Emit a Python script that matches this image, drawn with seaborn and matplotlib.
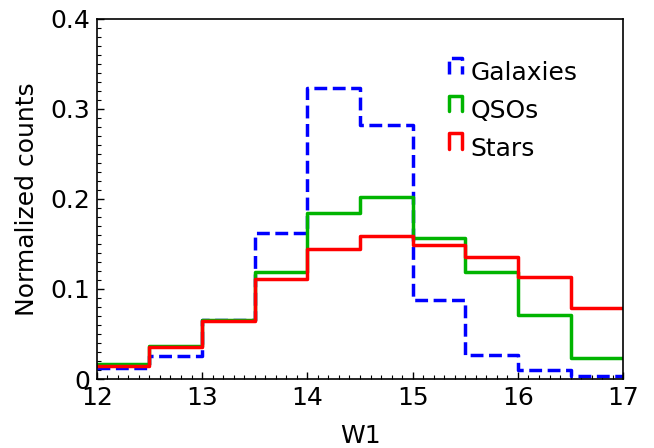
import numpy as np
import matplotlib
matplotlib.use("Agg")
import matplotlib.pyplot as plt
import seaborn as sns
from matplotlib.lines import Line2D
from matplotlib.legend_handler import HandlerBase
from matplotlib.ticker import MultipleLocator

# ---------------------------------------------------------------
# Data (normalized counts per W1 bin)
# ---------------------------------------------------------------
bin_edges = [12.0, 12.5, 13.0, 13.5, 14.0, 14.5, 15.0, 15.5, 16.0, 16.5, 17.0]
galaxies = [0.012, 0.025, 0.066, 0.162, 0.323, 0.282, 0.088, 0.027, 0.010, 0.003]
qsos = [0.017, 0.037, 0.065, 0.119, 0.184, 0.202, 0.157, 0.119, 0.071, 0.023]
stars = [0.014, 0.035, 0.064, 0.111, 0.144, 0.159, 0.149, 0.135, 0.113, 0.079]

series = [
    ("Galaxies", galaxies, "#0000ff", "--"),
    ("QSOs", qsos, "#00b400", "-"),
    ("Stars", stars, "#ff0000", "-"),
]

centers = (np.array(bin_edges[:-1]) + np.array(bin_edges[1:])) / 2


# legend handle drawn as an open-bottom step
class StepHandler(HandlerBase):
    def create_artists(self, legend, orig_handle, xdescent, ydescent,
                       width, height, fontsize, trans):
        x0, x1 = -xdescent, -xdescent + width
        y0, y1 = -ydescent + 0.35 * height, -ydescent + 1.35 * height
        line = Line2D([x0, x0, x1, x1], [y0, y1, y1, y0],
                      color=orig_handle.get_color(),
                      linestyle=orig_handle.get_linestyle(),
                      lw=2.5, transform=trans)
        return [line]


# ---------------------------------------------------------------
# Figure
# ---------------------------------------------------------------
sns.set_style("ticks")
plt.rcParams["font.family"] = ["DejaVu Sans"]
plt.rcParams["text.color"] = "black"
plt.rcParams["axes.labelcolor"] = "black"
plt.rcParams["xtick.color"] = "black"
plt.rcParams["ytick.color"] = "black"

fig = plt.figure(figsize=(6.54, 4.48), dpi=100)
ax = fig.add_axes([0.148, 0.154, 0.805, 0.804])

handles = []
for name, vals, col, ls in series:
    sns.histplot(x=centers, weights=vals, bins=bin_edges, element="step",
                 fill=False, color=col, linewidth=2.5, linestyle=ls, ax=ax)
    handles.append(Line2D([], [], color=col, linestyle=ls, label=name))

ax.set_xlim(12, 17)
ax.set_ylim(0, 0.4)
ax.set_xticks([12, 13, 14, 15, 16, 17])
ax.set_yticks([0, 0.1, 0.2, 0.3, 0.4])
ax.set_yticklabels(["0", "0.1", "0.2", "0.3", "0.4"])
ax.xaxis.set_minor_locator(MultipleLocator(0.1))
ax.yaxis.set_minor_locator(MultipleLocator(0.01))
ax.tick_params(which="both", direction="in", labelsize=18, top=False, right=False)
ax.tick_params(which="major", length=5, width=1, pad=5)
ax.tick_params(which="minor", length=3, width=0.8)

for sp in ax.spines.values():
    sp.set_visible(True)
    sp.set_linewidth(1.2)
    sp.set_color("black")

ax.set_xlabel("W1", fontsize=18, labelpad=10)
ax.set_ylabel("Normalized counts", fontsize=18, labelpad=8)

ax.legend(handles=handles, loc="upper left", bbox_to_anchor=(0.626, 0.945),
          frameon=False, fontsize=18, handlelength=0.52, handleheight=0.6,
          handletextpad=0.35, labelspacing=0.55,
          handler_map={Line2D: StepHandler()})

fig.savefig("out.png", dpi=100)
